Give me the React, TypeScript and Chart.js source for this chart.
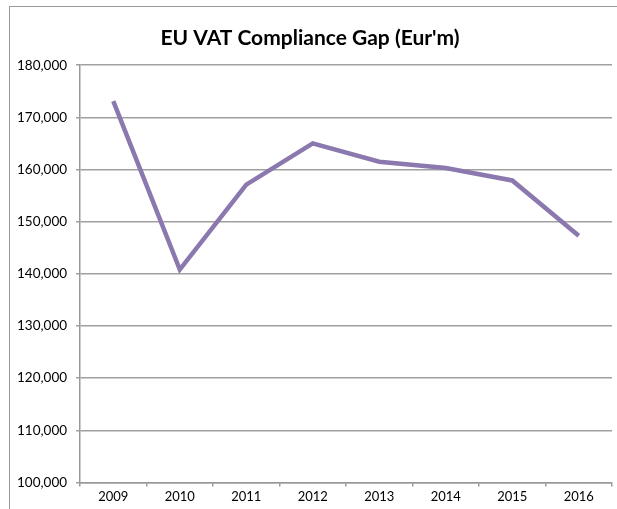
import React, { useEffect, useRef } from "react";
import { Chart, registerables } from "chart.js";

Chart.register(...registerables);

const years = ["2009", "2010", "2011", "2012", "2013", "2014", "2015", "2016"];
const vatGap = [173100, 140800, 157100, 165000, 161500, 160300, 157900, 147300];
const yMin = 100000;
const yMax = 180000;
const yStep = 10000;
const title = "EU VAT Compliance Gap (Eur'm)";

export default function App() {
  const ref = useRef<HTMLCanvasElement | null>(null);
  useEffect(() => {
    document.body.style.margin = "0";
    const ctx = ref.current!.getContext("2d")!;
    const chart = new Chart(ctx, {
      type: "line",
      data: {
        labels: years,
        datasets: [
          {
            data: vatGap,
            borderColor: "#8b78af",
            borderWidth: 4.5,
            pointRadius: 0,
            tension: 0,
            fill: false,
          },
        ],
      },
      options: {
        responsive: false,
        animation: false,
        layout: { padding: { left: 8, right: 5, top: 20, bottom: 1 } },
        plugins: {
          legend: { display: false },
          tooltip: { enabled: false },
          title: {
            display: true,
            text: title,
            color: "#000",
            font: { family: "Lato", size: 21, weight: "bold" },
            padding: { top: 6, bottom: 14 },
          },
        },
        scales: {
          x: {
            offset: true,
            grid: {
              offset: true,
              drawOnChartArea: false,
              drawTicks: true,
              tickLength: 4,
              color: "#999",
              lineWidth: 1.5,
            },
            border: { color: "#999", width: 1.5 },
            ticks: {
              color: "#000",
              font: { family: "Lato", size: 13 },
              padding: 3,
              maxRotation: 0,
            },
          },
          y: {
            min: yMin,
            max: yMax,
            grid: {
              color: "#a0a0a0",
              lineWidth: 1.5,
              tickLength: 4,
            },
            border: { color: "#999", width: 1.5 },
            ticks: {
              stepSize: yStep,
              color: "#000",
              font: { family: "Lato", size: 13.5 },
              padding: 9,
              callback: (v: any) => Number(v).toLocaleString("en-US"),
            },
          },
        },
      },
    });
    return () => chart.destroy();
  }, []);
  return (
    <div style={{ position: "relative", width: 617, height: 509, background: "#fff", overflow: "hidden" }}>
      <canvas ref={ref} width={617} height={509} style={{ position: "absolute", left: 0, top: 0 }} />
      <div
        style={{
          position: "absolute",
          left: 9,
          top: 6,
          width: 700,
          height: 600,
          borderLeft: "1.5px solid #999",
          borderTop: "1.5px solid #999",
          pointerEvents: "none",
        }}
      />
    </div>
  );
}
